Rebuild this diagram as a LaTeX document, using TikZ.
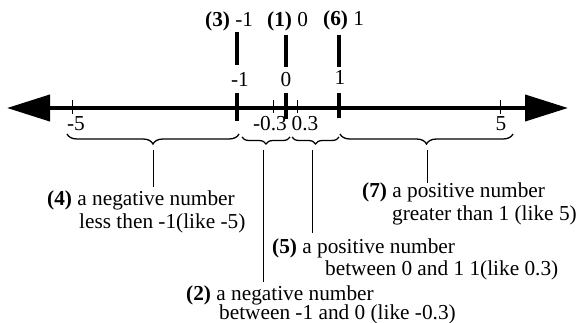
\documentclass[tikz,border=0pt]{standalone}
\usepackage{fontspec}
\setmainfont{Liberation Serif}
\usetikzlibrary{arrows.meta,decorations.pathreplacing}
\begin{document}
\begin{tikzpicture}[x=1pt,y=-1pt,
  txt/.style={inner sep=0pt,anchor=base west,font=\fontsize{21.3}{25}\selectfont},
  num/.style={inner sep=0pt,anchor=base,font=\fontsize{21.3}{25}\selectfont},
  axis/.style={line width=4pt,{Triangle[length=43pt,width=26pt]}-{Triangle[length=43pt,width=26pt]}},
  thick tick/.style={line width=4pt},
  thin tick/.style={line width=1pt},
  brc/.style={line width=1.3pt,decorate,decoration={brace,amplitude=10pt}},
  lead/.style={line width=0.8pt}]
\useasboundingbox (0,0) rectangle (578,323);
% axis
\coordinate (L) at (7,108);
\coordinate (R) at (568,108);
\draw[axis] (L) -- (R);
% ticks
\coordinate (t5a) at (72,100); \coordinate (t5b) at (72,114);
\draw[thin tick] (t5a) -- (t5b);
\coordinate (tm1a) at (237,93); \coordinate (tm1b) at (237,121);
\draw[thick tick] (tm1a) -- (tm1b);
\coordinate (tm3a) at (273,100); \coordinate (tm3b) at (273,113);
\draw[thin tick] (tm3a) -- (tm3b);
\coordinate (t0a) at (286,93); \coordinate (t0b) at (286,119);
\draw[thick tick] (t0a) -- (t0b);
\coordinate (tp3a) at (297,100); \coordinate (tp3b) at (297,113);
\draw[thin tick] (tp3a) -- (tp3b);
\coordinate (t1a) at (339,93); \coordinate (t1b) at (339,118);
\draw[thick tick] (t1a) -- (t1b);
\coordinate (tp5a) at (500,100); \coordinate (tp5b) at (500,114);
\draw[thin tick] (tp5a) -- (tp5b);
% upper marks
\coordinate (um1a) at (237,32); \coordinate (um1b) at (237,65);
\draw[thick tick] (um1a) -- (um1b);
\coordinate (u0a) at (286,35); \coordinate (u0b) at (286,67);
\draw[thick tick] (u0a) -- (u0b);
\coordinate (u1a) at (339,35); \coordinate (u1b) at (339,67);
\draw[thick tick] (u1a) -- (u1b);
% top labels
\node[txt] (top3) at (205,27) {\textbf{(3)} -1};
\node[txt] (top1) at (267,27) {\textbf{(1)} 0};
\node[txt] (top6) at (323,26) {\textbf{(6)} 1};
% mid labels
\node[num] (mm1) at (240,87) {-1};
\node[num] (m0) at (286,87) {0};
\node[num] (m1) at (340,85) {1};
% below labels
\node[num] (bm5) at (76,131) {-5};
\node[num] (bm03) at (270,131) {-0.3};
\node[num] (bp03) at (305,131) {0.3};
\node[num] (bp5) at (501,131) {5};
% braces
\coordinate (b1l) at (67,134); \coordinate (b1r) at (239,134);
\draw[brc] (b1r) -- (b1l);
\coordinate (b2l) at (242,137); \coordinate (b2r) at (290,137);
\draw[brc,decoration={brace,amplitude=7pt}] (b2r) -- (b2l);
\coordinate (b3l) at (292,137); \coordinate (b3r) at (339,137);
\draw[brc,decoration={brace,amplitude=7pt}] (b3r) -- (b3l);
\coordinate (b4l) at (340,134); \coordinate (b4r) at (513,134);
\draw[brc] (b4r) -- (b4l);
% leader lines
\coordinate (c1) at (153,150); \coordinate (e1) at (153,187);
\draw[lead] (c1) -- (e1);
\coordinate (c2) at (263,150); \coordinate (e2) at (263,282);
\draw[lead] (c2) -- (e2);
\coordinate (c3) at (312,150); \coordinate (e3) at (312,233);
\draw[lead] (c3) -- (e3);
\coordinate (c4) at (427,150); \coordinate (e4) at (427,183);
\draw[lead] (c4) -- (e4);
% descriptions
\node[txt] (d4a) at (47,205) {\textbf{(4)} a negative number};
\node[txt] (d4b) at (79,229) {less then -1(like -5)};
\node[txt] (d7a) at (362,197) {\textbf{(7)} a positive number};
\node[txt] (d7b) at (392,220) {greater than 1 (like 5)};
\node[txt] (d5a) at (272,253) {\textbf{(5)} a positive number};
\node[txt] (d5b) at (325,275) {between 0 and 1 1(like 0.3)};
\node[txt] (d2a) at (186,300) {\textbf{(2)} a negative number};
\node[txt] (d2b) at (219,319) {between -1 and 0 (like -0.3)};
\end{tikzpicture}
\end{document}
